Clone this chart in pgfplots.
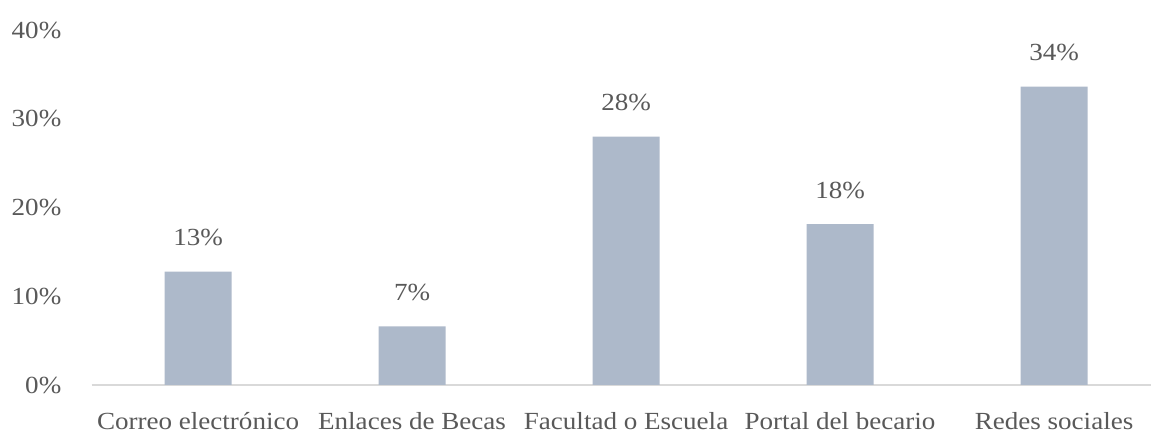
\documentclass[border=0pt]{standalone}
\usepackage{pgfplots}
\pgfplotsset{compat=1.18}
\usepackage{fontspec}
\setmainfont[FakeStretch=1.1]{Liberation Serif}
\definecolor{barc}{HTML}{ADB9CA}
\definecolor{txt}{HTML}{595959}
\definecolor{axc}{HTML}{D9D9D9}
\begin{document}
\begin{tikzpicture}
\path[use as bounding box] (0,0) rectangle (575.5pt,216.5pt);
\begin{axis}[
  at={(45.85pt,24pt)}, anchor=south west,
  scale only axis,
  width=529.65pt, height=177.5pt,
  xmin=-0.497, xmax=4.453,
  ymin=0, ymax=40,
  axis lines*=left,
  y axis line style={draw=none},
  x axis line style={draw=axc, line width=1pt},
  major tick length=0pt,
  xtick={0,1,2,3,4},
  xticklabels={Correo electrónico, Enlaces de Becas, Facultad o Escuela, Portal del becario, Redes sociales},
  ytick={0,10,20,30,40},
  yticklabels={0\%,10\%,20\%,30\%,40\%},
  xticklabel style={font=\fontsize{12.3}{14}\selectfont, text=txt, anchor=base, inner sep=0pt, yshift=-22.3pt},
  yticklabel style={font=\fontsize{12.3}{14}\selectfont, text=txt, anchor=east, inner sep=0pt, xshift=-15pt},
  ybar, bar width=33.5pt,
  point meta=explicit symbolic,
  nodes near coords,
  nodes near coords style={font=\fontsize{12.3}{14}\selectfont, text=txt, anchor=south, inner sep=0pt, yshift=12.5pt},
]
\addplot[fill=barc, draw=none] table[meta=lab] {
x y lab
0 12.77 13\%
1 6.61 7\%
2 27.98 28\%
3 18.14 18\%
4 33.61 34\%
};
\end{axis}
\end{tikzpicture}
\end{document}
